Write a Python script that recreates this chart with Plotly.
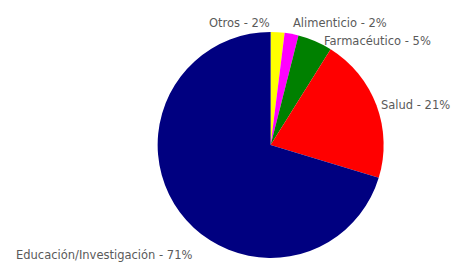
import plotly.graph_objects as go

labels = ["Otros", "Alimenticio", "Farmacéutico", "Salud", "Educación/Investigación"]
values = [2, 2, 5, 21, 71]
colors = ["#FFFF00", "#FF00FF", "#008000", "#FF0000", "#000080"]

# label annotation placement (paper coords, anchors)
label_pos = [
    (0.445, 0.913, "left"),
    (0.626, 0.913, "left"),
    (0.693, 0.845, "left"),
    (0.815, 0.602, "left"),
    (0.030, 0.034, "left"),
]

fig = go.Figure(go.Pie(
    labels=labels, values=values, sort=False, direction="clockwise", rotation=0,
    marker=dict(colors=colors, line=dict(width=0)),
    textinfo="none", hoverinfo="label+percent",
    domain=dict(x=[0.338, 0.826], y=[0.023, 0.879]),
    showlegend=False,
))

for lab, val, (x, y, anc) in zip(labels, values, label_pos):
    fig.add_annotation(
        x=x, y=y, xref="paper", yref="paper", xanchor=anc, yanchor="middle",
        text=f"{lab} - {val}%", showarrow=False,
        font=dict(family="DejaVu Sans", size=11.5, color="#5a5a5a"),
    )

fig.update_layout(width=465, height=264, margin=dict(l=0, r=0, t=0, b=0),
                  paper_bgcolor="white", plot_bgcolor="white")
fig.write_html("out.html", config={"displayModeBar": False},
               post_script="document.body.style.margin='0';")
